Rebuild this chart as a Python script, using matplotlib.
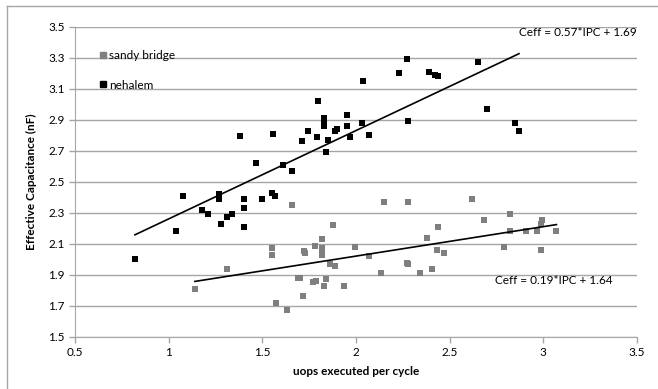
import numpy as np
import matplotlib.pyplot as plt
from matplotlib.lines import Line2D

# nehalem measurements (uops per cycle, effective capacitance nF)
nehalem_ipc = [0.82, 1.04, 1.075, 1.18, 1.21, 1.27, 1.27, 1.28, 1.31, 1.34,
               1.38, 1.40, 1.40, 1.40, 1.467, 1.50, 1.55, 1.557, 1.57, 1.61,
               1.66, 1.71, 1.745, 1.79, 1.795, 1.83, 1.83, 1.83, 1.84, 1.85,
               1.89, 1.90, 1.95, 1.95, 1.97, 2.03, 2.04, 2.07, 2.23, 2.27,
               2.28, 2.39, 2.42, 2.44, 2.65, 2.70, 2.85, 2.87]
nehalem_ceff = [2.00, 2.18, 2.41, 2.32, 2.29, 2.42, 2.39, 2.23, 2.27, 2.29,
                2.795, 2.39, 2.33, 2.21, 2.62, 2.39, 2.43, 2.81, 2.41, 2.61,
                2.57, 2.76, 2.83, 2.79, 3.02, 2.91, 2.89, 2.86, 2.69, 2.77,
                2.83, 2.84, 2.93, 2.86, 2.79, 2.88, 3.15, 2.80, 3.20, 3.29,
                2.89, 3.21, 3.19, 3.18, 3.27, 2.97, 2.88, 2.83]

# sandy bridge measurements
sandy_ipc = [1.14, 1.31, 1.55, 1.55, 1.575, 1.63, 1.66, 1.69, 1.70, 1.715,
             1.72, 1.73, 1.77, 1.78, 1.785, 1.82, 1.82, 1.82, 1.82, 1.83,
             1.84, 1.86, 1.875, 1.89, 1.935, 1.995, 2.07, 2.135, 2.15, 2.27,
             2.28, 2.28, 2.34, 2.38, 2.405, 2.435, 2.44, 2.47, 2.62, 2.685,
             2.79, 2.82, 2.82, 2.91, 2.965, 2.99, 2.995, 2.99, 3.07]
sandy_ceff = [1.81, 1.94, 2.07, 2.03, 1.72, 1.67, 2.35, 1.88, 1.88, 1.76,
              2.055, 2.04, 1.85, 2.085, 1.86, 2.13, 2.07, 2.06, 2.03, 1.83,
              1.87, 1.97, 2.22, 1.955, 1.83, 2.08, 2.02, 1.91, 2.37, 1.975,
              1.97, 2.37, 1.91, 2.14, 1.935, 2.06, 2.21, 2.04, 2.39, 2.25,
              2.08, 2.29, 2.18, 2.18, 2.18, 2.06, 2.25, 2.23, 2.18]

# linear trendlines (slope, intercept) as printed on the chart
nehalem_fit = [0.57, 1.69]
sandy_fit = [0.19, 1.64]

grey = '#7f7f7f'
fnt = 'Lato'

fig = plt.figure(figsize=(6.58, 3.89), dpi=100)
ax = fig.add_axes([75 / 658, 1 - 336.7 / 389, (637 - 75) / 658, (336.7 - 26.7) / 389])

ax.scatter(sandy_ipc, sandy_ceff, marker='s', s=20, color=grey, linewidths=0, zorder=3)
ax.scatter(nehalem_ipc, nehalem_ceff, marker='s', s=20, color='black', linewidths=0, zorder=3)

for xs, fit in [(nehalem_ipc, nehalem_fit), (sandy_ipc, sandy_fit)]:
    xx = np.array([min(xs), max(xs)])
    ax.plot(xx, fit[0] * xx + fit[1], color='black', lw=1.2, zorder=4)

ax.set_xlim(0.5, 3.5)
ax.set_ylim(1.5, 3.5)
ax.set_xticks(np.arange(0.5, 3.51, 0.5))
ax.set_yticks(np.arange(1.5, 3.51, 0.2))
ax.set_xticklabels(['0.5', '1', '1.5', '2', '2.5', '3', '3.5'])
ax.set_yticklabels(['%.1f' % v for v in np.arange(1.5, 3.51, 0.2)])
ax.yaxis.grid(True, color='#a6a6a6', lw=1)
ax.set_axisbelow(True)
for side in ['top', 'right']:
    ax.spines[side].set_visible(False)
for side in ['left', 'bottom']:
    ax.spines[side].set_color('#a6a6a6')
ax.tick_params(axis='both', colors='#a6a6a6', labelcolor='black', length=4, width=1,
               labelsize=8.5)
for lab in ax.get_xticklabels() + ax.get_yticklabels():
    lab.set_fontfamily(fnt)

ax.set_xlabel('uops executed per cycle', fontsize=8.5, fontweight='bold', family=fnt, labelpad=6)
ax.set_ylabel('Effective Capacitance (nF)', fontsize=8.5, fontweight='bold', family=fnt, labelpad=8)

ax.text(3.5, 3.46, 'Ceff = 0.57*IPC + 1.69', ha='right', va='center', fontsize=8.5, family=fnt)
ax.text(2.74, 1.86, 'Ceff = 0.19*IPC + 1.64', ha='left', va='center', fontsize=8.5, family=fnt)

# legend drawn inside the plot, top left
handles = [Line2D([], [], marker='s', ls='', color=grey, markersize=4.5),
           Line2D([], [], marker='s', ls='', color='black', markersize=4.5)]
leg = ax.legend(handles, ['sandy bridge', 'nehalem'], loc='upper left',
                bbox_to_anchor=(0.025, 0.96), frameon=False, handlelength=0.5,
                handletextpad=0.3, labelspacing=1.6, prop={'family': fnt, 'size': 8.5})

# chart area border (only top and left visible in the crop)
fig.add_artist(Line2D([7 / 658, 7 / 658], [0, 1 - 6 / 389], color='#a6a6a6', lw=1))
fig.add_artist(Line2D([7 / 658, 1], [1 - 6 / 389, 1 - 6 / 389], color='#a6a6a6', lw=1))

fig.savefig('out.png', dpi=100)
